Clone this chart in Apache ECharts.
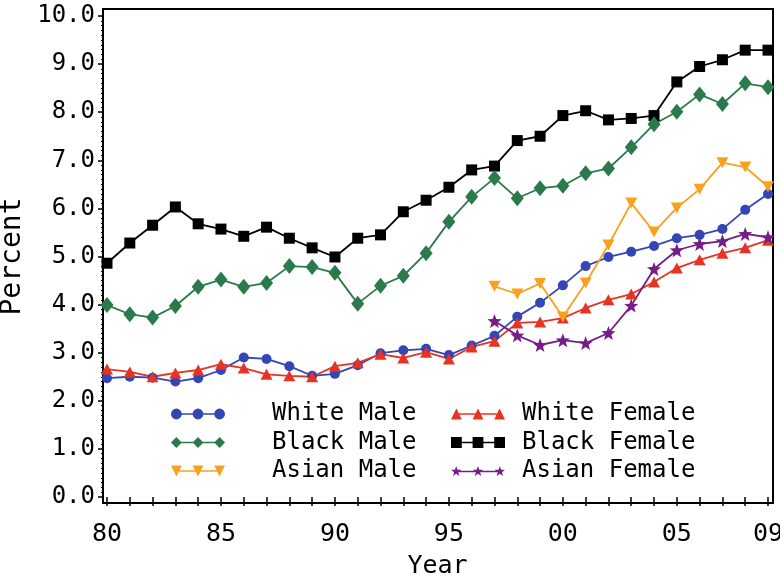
<!DOCTYPE html>
<html><head><meta charset="utf-8">
<script src="https://cdn.jsdelivr.net/npm/echarts@6/dist/echarts.min.js"></script>
<style>html,body{margin:0;padding:0;background:#fff}#c{width:780px;height:579px}</style>
</head><body><div id="c"></div>
<script>
const years = [1980,1981,1982,1983,1984,1985,1986,1987,1988,1989,1990,1991,1992,1993,1994,1995,1996,1997,1998,1999,2000,2001,2002,2003,2004,2005,2006,2007,2008,2009];
const asianYears = [1997,1998,1999,2000,2001,2002,2003,2004,2005,2006,2007,2008,2009];
const whiteMale   = [2.47,2.50,2.48,2.40,2.47,2.64,2.90,2.87,2.72,2.52,2.56,2.74,2.99,3.05,3.08,2.95,3.15,3.35,3.75,4.04,4.40,4.80,4.99,5.10,5.22,5.38,5.45,5.57,5.97,6.30];
const blackMale   = [3.99,3.80,3.73,3.97,4.37,4.52,4.37,4.45,4.80,4.78,4.66,4.02,4.39,4.60,5.07,5.72,6.24,6.63,6.21,6.42,6.47,6.73,6.83,7.27,7.75,8.01,8.37,8.17,8.60,8.52];
const whiteFemale = [2.66,2.60,2.50,2.58,2.64,2.76,2.68,2.55,2.52,2.50,2.72,2.79,2.97,2.89,3.01,2.87,3.12,3.24,3.62,3.64,3.72,3.93,4.10,4.22,4.47,4.76,4.93,5.07,5.18,5.34];
const blackFemale = [4.86,5.28,5.65,6.03,5.68,5.57,5.42,5.61,5.38,5.18,4.99,5.38,5.45,5.93,6.17,6.44,6.80,6.88,7.41,7.50,7.93,8.03,7.84,7.87,7.93,8.63,8.95,9.09,9.29,9.29];
const asianMale   = [4.38,4.22,4.44,3.74,4.45,5.24,6.11,5.51,6.01,6.40,6.95,6.86,6.45];
const asianFemale = [3.66,3.36,3.16,3.26,3.20,3.41,3.98,4.74,5.13,5.26,5.32,5.47,5.40];
const xTickLabels = {1980:'80',1985:'85',1990:'90',1995:'95',2000:'00',2005:'05',2009:'09'};
const seriesNames = ['White Male','Black Male','Asian Male','White Female','Black Female','Asian Female'];

const FONT = 'DejaVu Sans Mono';
const C = {wm:'#3446b5', bm:'#2a7a4b', am:'#f8a11f', wf:'#e63323', bf:'#000000', af:'#761d86'};

function starPts(cx, cy, R, r) {
  let s = '';
  for (let k = 0; k < 10; k++) {
    const a = -Math.PI / 2 + k * Math.PI / 5;
    const rr = k % 2 ? r : R;
    s += (k ? 'L' : 'M') + (cx + rr * Math.cos(a)).toFixed(2) + ' ' + (cy + rr * Math.sin(a)).toFixed(2);
  }
  return s + 'Z';
}
const starSymbol = 'path://' + starPts(10, 10, 10, 4.2);

function legendIcon(kind) {
  let p = 'M6 5.2H54V6.8H6Z';
  [6, 30, 54].forEach(cx => {
    if (kind === 'circle') p += `M${cx-6} 6a6 6 0 1 1 12 0a6 6 0 1 1 -12 0Z`;
    else if (kind === 'diamond') p += `M${cx} 0L${cx+6} 6L${cx} 12L${cx-6} 6Z`;
    else if (kind === 'square') p += `M${cx-6} 0H${cx+6}V12H${cx-6}Z`;
    else if (kind === 'up') p += `M${cx} 0L${cx+6} 12L${cx-6} 12Z`;
    else if (kind === 'down') p += `M${cx-6} 0L${cx+6} 0L${cx} 12Z`;
    else if (kind === 'star') p += starPts(cx, 6, 6, 2.4);
  });
  return 'path://' + p;
}

function pairs(xs, ys) { return xs.map((x, i) => [x, ys[i]]); }

function mk(name, xs, ys, color, symbol, size, rotate) {
  return {
    name, type: 'line', xAxisIndex: 1, yAxisIndex: 1,
    data: pairs(xs, ys), showSymbol: true, symbol, symbolSize: size, symbolRotate: rotate || 0,
    lineStyle: {color, width: 1.8}, itemStyle: {color, borderWidth: 0},
    emphasis: {disabled: true}, animation: false
  };
}

const legendBase = {
  orient: 'vertical', padding: 0, itemWidth: 54, itemHeight: 12, itemGap: 4.5,
  selectedMode: false, itemStyle: {borderWidth: 0},
};

const chart = echarts.init(document.getElementById('c'));
chart.setOption({
  backgroundColor: '#fff',
  animation: false,
  grid: [
    {left: 103, right: 7, top: 9, bottom: 76, show: true, borderColor: '#000', borderWidth: 2, backgroundColor: 'transparent', outerBoundsMode: 'none'},
    {left: 107, right: 12, top: 16, bottom: 82, outerBoundsMode: 'none'}
  ],
  xAxis: [
    {gridIndex: 0, type: 'value', show: false, min: 0, max: 1},
    {gridIndex: 1, type: 'value', min: 1980, max: 2009, interval: 1, offset: 6,
     axisLine: {show: false}, splitLine: {show: false},
     axisTick: {show: true, length: 9, lineStyle: {color: '#000', width: 1.5}},
     axisLabel: {margin: 19, color: '#000', fontFamily: FONT, fontSize: 25,
       formatter: v => xTickLabels[v] || ''},
     name: 'Year', nameLocation: 'middle', nameGap: 51,
     nameTextStyle: {color: '#000', fontFamily: FONT, fontSize: 25}}
  ],
  yAxis: [
    {gridIndex: 0, type: 'value', show: false, min: 0, max: 1},
    {gridIndex: 1, type: 'value', min: 0, max: 10, interval: 1, offset: 4,
     axisLine: {show: false}, splitLine: {show: false},
     axisTick: {show: true, length: 5, lineStyle: {color: '#000', width: 1.5}},
     minorTick: {show: true, splitNumber: 10, length: 2, lineStyle: {color: '#000', width: 1}},
     minorSplitLine: {show: false},
     axisLabel: {margin: 8, color: '#000', fontFamily: FONT, fontSize: 24,
       formatter: v => v.toFixed(1)},
     name: 'Percent', nameLocation: 'middle', nameGap: 62,
     nameTextStyle: {color: '#000', fontFamily: FONT, fontSize: 28}}
  ],
  legend: [
    Object.assign({}, legendBase, {left: 171, top: 402,
      data: [
        {name: seriesNames[0], icon: legendIcon('circle')},
        {name: seriesNames[1], icon: legendIcon('diamond')},
        {name: seriesNames[2], icon: legendIcon('down')}
      ],
      textStyle: {color: '#000', fontFamily: FONT, fontSize: 24, padding: [0, 0, 0, 42]}}),
    Object.assign({}, legendBase, {left: 451, top: 402,
      data: [
        {name: seriesNames[3], icon: legendIcon('up')},
        {name: seriesNames[4], icon: legendIcon('square')},
        {name: seriesNames[5], icon: legendIcon('star')}
      ],
      textStyle: {color: '#000', fontFamily: FONT, fontSize: 24, padding: [0, 0, 0, 12]}})
  ],
  series: [
    mk(seriesNames[4], years, blackFemale, C.bf, 'rect', 11),
    mk(seriesNames[1], years, blackMale, C.bm, 'diamond', [13, 16]),
    mk(seriesNames[0], years, whiteMale, C.wm, 'circle', 10),
    mk(seriesNames[3], years, whiteFemale, C.wf, 'triangle', [12, 11]),
    mk(seriesNames[5], asianYears, asianFemale, C.af, starSymbol, 14),
    mk(seriesNames[2], asianYears, asianMale, C.am, 'triangle', [12, 11], 180)
  ]
});
</script>
</body></html>
